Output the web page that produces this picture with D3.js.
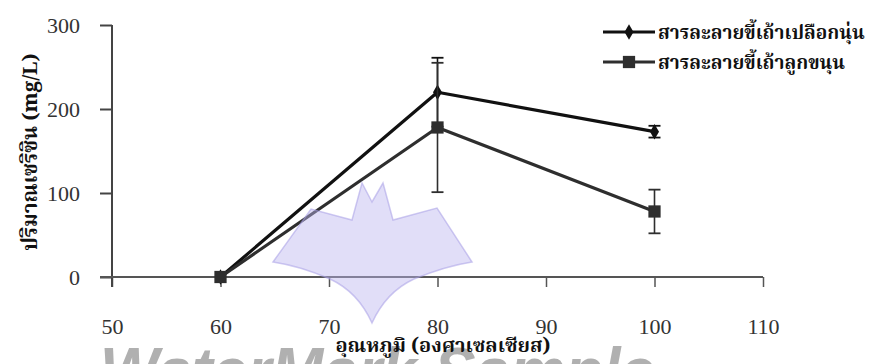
<!DOCTYPE html>
<html>
<head>
<meta charset="utf-8">
<script src="https://cdn.jsdelivr.net/npm/d3@7"></script>
<style>
  html, body { margin: 0; padding: 0; background: #fff; }
  svg { display: block; }
</style>
</head>
<body>
<svg id="chart" width="869" height="364"></svg>
<script>
// Sericin yield vs. extraction temperature for two ash-lye solutions
const temps = [60, 80, 100];
const seriesNames = ["สารละลายขี้เถ้าเปลือกนุ่น", "สารละลายขี้เถ้าลูกขนุน"];
const kapokMean = [0, 220, 173];
const kapokSD = [0, 41, 7];
const jackMean = [0, 178, 78];
const jackSD = [0, 77, 26];
const xTicks = [50, 60, 70, 80, 90, 100, 110];
const yTicks = [0, 100, 200, 300];
const xTitle = "อุณหภูมิ (องศาเซลเซียส)";
const yTitle = "ปริมาณเซริซิน (mg/L)";

const svg = d3.select("#chart");
const serif = "'Liberation Serif', 'Times New Roman', serif";
const thai = "'Noto Serif Thai', 'Noto Sans Thai', 'Loma', 'Garuda', 'Tlwg Typo', 'Noto Sans', sans-serif";

const x = d3.scaleLinear().domain([50, 110]).range([112, 763]);
const y = d3.scaleLinear().domain([0, 300]).range([277, 25]);

// faint "WaterMark Sample" text sits underneath everything
svg.append("text").attr("x", 100).attr("y", 393)
  .attr("font-family", "'Liberation Sans', Arial, sans-serif").attr("font-style", "italic")
  .attr("font-weight", "bold").attr("font-size", 64).attr("fill", "#9c9c9c").attr("fill-opacity", 0.8)
  .attr("textLength", 555).attr("lengthAdjust", "spacingAndGlyphs")
  .text("WaterMark Sample");

// axes
const yAxis = svg.append("g").attr("transform", `translate(${x(50)},0)`)
  .call(d3.axisLeft(y).tickValues(yTicks).tickSize(12).tickPadding(20).tickFormat(d3.format("d")));
yAxis.select(".domain").remove();
yAxis.selectAll(".tick line").attr("stroke", "#444").attr("stroke-width", 2);
yAxis.selectAll(".tick text").attr("font-family", serif).attr("font-size", 22).attr("fill", "#333");

const xAxis = svg.append("g").attr("transform", `translate(0,${y(0)})`)
  .call(d3.axisBottom(x).tickValues(xTicks).tickSize(10).tickPadding(31).tickFormat(d3.format("d")));
xAxis.select(".domain").remove();
xAxis.selectAll(".tick line").attr("stroke", "#555").attr("stroke-width", 1.5);
xAxis.selectAll(".tick text").attr("font-family", serif).attr("font-size", 22).attr("fill", "#333");

// axis lines
svg.append("line").attr("x1", x(50)).attr("x2", x(50)).attr("y1", y(300)).attr("y2", y(0) + 10)
  .attr("stroke", "#444").attr("stroke-width", 2);
svg.append("line").attr("x1", x(50) - 12).attr("x2", x(110)).attr("y1", y(0)).attr("y2", y(0))
  .attr("stroke", "#555").attr("stroke-width", 2);

// series
const series = [
  { mean: kapokMean, sd: kapokSD, color: "#111", marker: "diamond" },
  { mean: jackMean, sd: jackSD, color: "#2e2e2e", marker: "square" }
];

const line = d3.line().x((d, i) => x(temps[i])).y(d => y(d));

series.forEach(s => {
  const g = svg.append("g");
  // error bars
  temps.forEach((t, i) => {
    if (s.sd[i] <= 0) return;
    const cx = x(t), hi = y(s.mean[i] + s.sd[i]), lo = y(s.mean[i] - s.sd[i]);
    g.append("line").attr("x1", cx).attr("x2", cx).attr("y1", hi).attr("y2", lo)
      .attr("stroke", s.color).attr("stroke-width", 1.6);
    [hi, lo].forEach(v => g.append("line").attr("x1", cx - 6).attr("x2", cx + 6)
      .attr("y1", v).attr("y2", v).attr("stroke", s.color).attr("stroke-width", 1.8));
  });
  g.append("path").datum(s.mean).attr("d", line).attr("fill", "none")
    .attr("stroke", s.color).attr("stroke-width", 3.2).attr("stroke-linejoin", "round");
  const sym = s.marker === "diamond" ? d3.symbolDiamond : d3.symbolSquare;
  const size = s.marker === "diamond" ? 70 : 150;
  g.selectAll("path.pt").data(s.mean).join("path").attr("class", "pt")
    .attr("transform", (d, i) => `translate(${x(temps[i])},${y(d)})`)
    .attr("d", d3.symbol().type(sym).size(size)).attr("fill", s.color);
});

// legend
const legend = svg.append("g");
series.forEach((s, i) => {
  const ly = 32 + i * 30;
  legend.append("line").attr("x1", 603).attr("x2", 655).attr("y1", ly).attr("y2", ly)
    .attr("stroke", s.color).attr("stroke-width", 3);
  const sym = s.marker === "diamond" ? d3.symbolDiamond : d3.symbolSquare;
  legend.append("path").attr("transform", `translate(629,${ly})`)
    .attr("d", d3.symbol().type(sym).size(s.marker === "diamond" ? 70 : 150)).attr("fill", s.color);
  legend.append("text").attr("x", 658).attr("y", ly).attr("dy", "0.35em")
    .attr("font-family", thai).attr("font-size", 19).attr("font-weight", "bold")
    .attr("fill", "#111").text(seriesNames[i]);
});

// axis titles
svg.append("text").attr("x", 443).attr("y", 352).attr("text-anchor", "middle")
  .attr("font-family", thai).attr("font-size", 20).attr("font-weight", "bold").attr("fill", "#111")
  .text(xTitle);
svg.append("text").attr("transform", "translate(30,152) rotate(-90)").attr("text-anchor", "middle")
  .attr("dy", "0.35em").attr("font-family", thai).attr("font-size", 20.5).attr("font-weight", "bold")
  .attr("fill", "#111").text(yTitle);

// translucent bat emblem laid over the plot
svg.append("path").attr("pointer-events", "none")
  .attr("d", "M273,262 L311,209 L352,220 L362,183 L372,202 L383,183 L393,220 L437,208 L472,262 " +
             "Q446,266 414,279 Q386,292 372,323 Q358,292 330,279 Q300,266 273,262 Z")
  .attr("fill", "#bdb6ef").attr("fill-opacity", 0.45)
  .attr("stroke", "#a89fe6").attr("stroke-opacity", 0.55).attr("stroke-width", 1.5);
</script>
</body>
</html>
